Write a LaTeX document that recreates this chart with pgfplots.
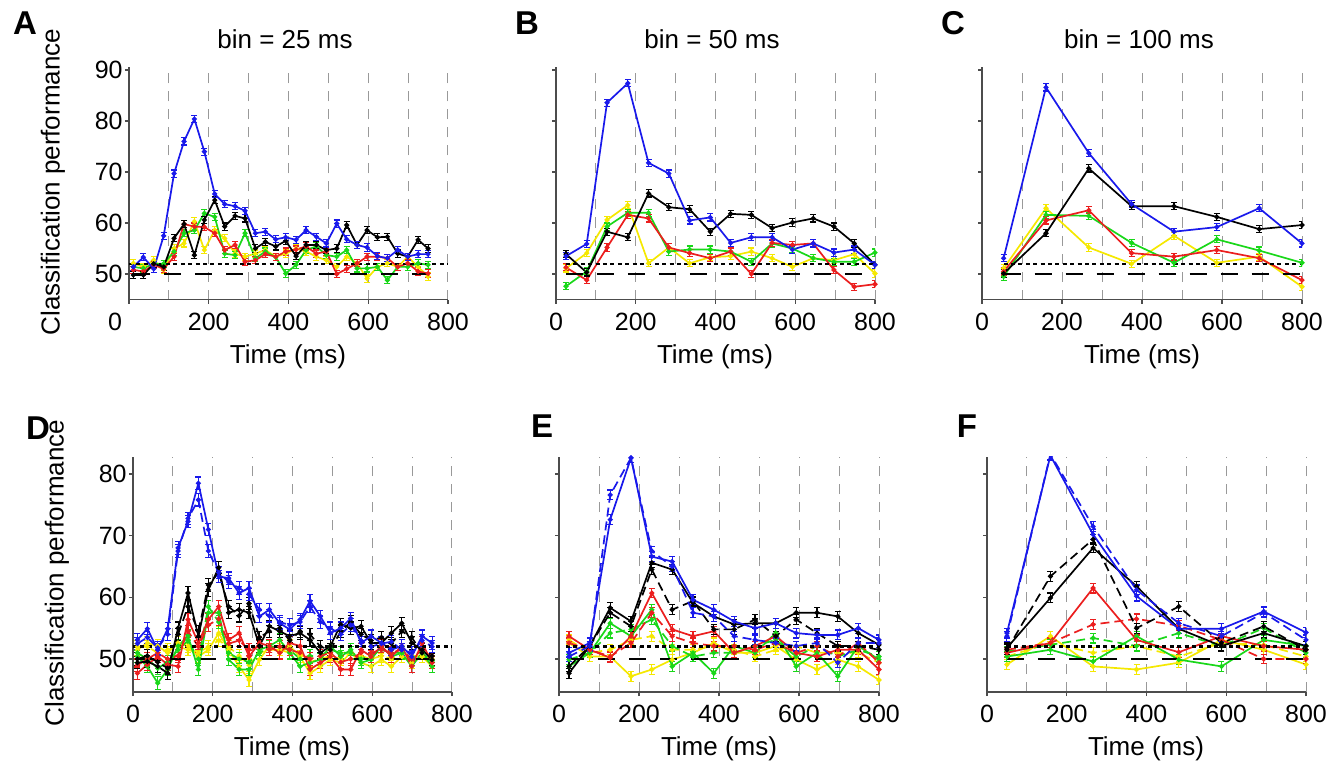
\documentclass[border=0pt]{standalone}
\usepackage{pgfplots}
\pgfplotsset{compat=1.18}
\usepackage{pgfplotstable}
\usepackage{fontspec}
\setmainfont{Liberation Sans}
\definecolor{cblue}{RGB}{25,25,235}
\definecolor{cred}{RGB}{235,30,30}
\definecolor{cgreen}{RGB}{25,215,25}
\definecolor{cyellow}{RGB}{245,232,0}

\pgfplotstableread[row sep=\\]{
x b k r g y\\
11 51.4 49.8 50.8 51.4 52.1\\
36 53.3 49.8 50.5 51.1 51.4\\
62 51.0 52.0 51.8 52.0 52.7\\
87 57.5 51.4 51.0 52.0 50.8\\
113 69.7 57.0 53.4 54.4 55.0\\
138 76.0 59.8 59.8 58.0 56.0\\
164 80.4 53.7 59.3 58.6 60.3\\
189 74.0 60.6 59.2 61.9 54.7\\
215 65.7 64.5 58.0 61.2 58.6\\
240 63.7 59.3 54.7 54.0 57.0\\
266 63.3 61.4 55.7 53.7 54.0\\
291 62.4 60.9 52.4 58.0 53.4\\
317 58.0 55.0 52.7 53.1 54.0\\
342 58.3 56.3 53.9 54.4 54.7\\
368 56.8 55.4 53.4 53.3 53.4\\
393 57.2 56.5 54.4 50.1 54.0\\
419 56.7 53.5 54.8 51.8 55.0\\
444 58.6 55.7 55.4 54.7 54.4\\
470 57.3 55.7 54.0 55.4 53.4\\
495 56.0 54.7 54.4 53.7 52.7\\
521 59.9 55.0 50.0 53.4 51.4\\
546 56.8 59.6 51.0 54.7 53.4\\
572 55.7 55.7 52.1 51.1 52.1\\
597 55.2 58.6 53.4 51.1 49.1\\
623 53.5 57.2 53.4 51.4 51.4\\
648 53.1 57.3 53.1 48.8 52.1\\
674 54.7 54.0 51.4 51.4 51.4\\
699 53.4 53.4 52.1 51.4 53.4\\
725 53.9 56.7 50.5 52.1 51.4\\
750 53.9 55.0 50.1 51.8 49.5\\
}\tA

\pgfplotstableread[row sep=\\]{
x b k r g y\\
25 53.5 53.9 51.3 47.6 51.1\\
77 55.9 50.3 48.8 50.5 54.1\\
128 83.6 58.3 55.2 59.3 60.6\\
180 87.4 57.2 61.6 62.0 63.5\\
232 71.8 65.8 60.9 62.0 52.1\\
283 69.7 63.1 55.2 54.4 55.2\\
335 60.5 62.7 54.1 54.8 52.1\\
387 61.1 58.3 53.1 54.8 53.3\\
438 56.1 61.8 54.4 54.4 53.5\\
490 57.2 61.6 50.0 52.4 54.4\\
542 57.2 59.0 56.1 56.0 53.1\\
593 54.8 60.1 55.7 55.0 51.4\\
645 56.0 60.9 56.0 53.1 53.1\\
697 54.2 59.3 50.8 52.4 52.7\\
748 54.8 56.0 47.5 52.4 53.9\\
800 51.8 51.8 48.0 54.2 50.1\\
}\tB

\pgfplotstableread[row sep=\\]{
x b k r g y\\
54 53.1 50.1 50.5 49.5 51.1\\
160 86.6 58.0 60.5 61.6 62.9\\
267 73.7 70.7 62.5 61.4 55.2\\
374 63.7 63.3 54.1 56.1 52.0\\
480 58.3 63.3 53.4 52.2 57.5\\
587 59.2 61.2 54.7 56.8 52.2\\
693 62.9 58.8 53.1 54.6 53.4\\
800 56.0 59.6 48.8 52.2 47.5\\
}\tC

\pgfplotstableread[row sep=\\]{
x b bd k kd r rd g gd y yd\\
11 53.1 52.5 49.4 50.0 47.7 49.0 50.4 51.0 51.5 52.0\\
36 54.9 53.5 49.6 50.5 49.1 50.0 48.8 50.0 52.6 52.0\\
62 51.5 51.8 48.8 49.5 50.4 51.0 46.1 48.5 52.1 51.0\\
87 54.9 54.0 47.7 48.5 49.1 50.0 48.3 49.5 51.0 51.5\\
113 68.0 67.5 55.0 54.0 48.8 50.5 52.1 51.5 52.6 52.0\\
138 72.3 72.8 60.7 58.5 56.4 54.5 53.7 53.0 52.1 51.5\\
164 78.5 75.8 53.7 54.5 52.6 52.0 48.3 50.0 50.4 51.0\\
189 71.0 67.5 61.2 62.0 56.4 55.5 57.5 58.5 51.5 52.0\\
215 63.4 64.0 64.8 64.0 58.5 56.5 57.5 56.0 54.2 53.0\\
240 63.1 62.5 57.5 58.5 53.1 52.5 49.9 51.0 51.5 52.0\\
266 60.7 61.5 58.0 57.0 54.2 53.0 48.3 50.0 48.8 50.5\\
291 61.5 60.5 57.5 59.0 50.4 51.5 48.3 49.5 46.6 49.0\\
317 56.9 58.0 52.1 53.5 52.6 52.0 51.5 51.0 49.9 51.0\\
342 58.0 57.0 55.3 54.5 52.1 51.5 52.1 52.0 52.1 51.5\\
368 55.8 56.0 54.5 55.0 51.0 52.0 53.1 52.0 51.0 51.5\\
393 54.8 55.5 53.7 53.0 52.6 51.5 51.0 51.5 52.1 51.0\\
419 56.4 56.0 54.2 54.5 52.1 51.0 48.8 50.0 50.4 51.0\\
444 59.4 58.5 53.1 54.0 48.3 50.0 49.4 50.5 47.7 49.5\\
470 56.9 56.0 51.0 52.0 49.4 50.5 49.9 50.5 48.8 50.0\\
495 54.2 55.0 52.1 51.5 50.4 51.0 52.1 51.5 49.9 50.5\\
521 55.0 54.0 55.6 54.5 48.3 49.5 50.4 51.0 49.4 50.0\\
546 56.6 55.5 55.0 56.0 48.3 50.0 51.5 51.0 51.0 51.0\\
572 52.6 53.0 55.3 54.0 51.5 51.0 49.4 50.0 49.4 50.5\\
597 53.7 52.0 52.6 53.0 50.4 51.0 49.9 50.5 48.8 50.0\\
623 52.6 52.5 52.6 53.5 52.1 51.5 52.1 51.5 49.9 50.5\\
648 51.5 52.8 54.2 52.5 50.4 51.0 50.4 51.0 48.8 50.0\\
674 52.1 51.5 55.8 54.5 52.1 51.5 51.0 51.0 50.4 51.0\\
699 50.4 51.0 52.6 53.5 48.8 50.0 48.8 50.0 49.4 50.5\\
725 53.7 53.0 51.5 51.0 52.6 51.5 51.0 51.0 50.4 50.5\\
750 52.6 52.0 49.9 50.5 49.4 50.5 48.8 49.5 48.8 50.0\\
}\tD

\pgfplotstableread[row sep=\\]{
x b bd k kd r rd g gd y yd\\
25 51.0 50.4 47.7 48.8 53.7 52.6 48.8 49.9 52.6 53.1\\
77 52.6 52.1 52.1 52.1 51.5 51.5 51.0 51.0 50.4 51.0\\
128 72.6 76.6 58.3 57.5 50.2 50.4 55.8 54.2 50.4 51.5\\
180 82.6 82.6 56.1 55.3 53.7 52.6 53.7 54.8 47.2 53.1\\
232 66.6 67.5 65.6 64.5 60.7 57.5 58.0 56.4 48.3 53.7\\
283 65.8 65.0 64.5 58.0 54.8 53.7 48.8 52.1 49.9 51.5\\
335 59.6 57.5 59.1 59.4 53.7 52.6 51.0 50.4 51.0 51.5\\
387 58.0 56.9 56.9 54.8 54.5 52.1 47.7 51.0 52.6 52.1\\
438 56.1 53.7 55.6 54.8 51.0 52.1 52.1 51.0 51.0 51.5\\
490 55.0 53.1 55.8 56.4 52.1 51.5 51.0 52.1 51.0 50.4\\
542 55.8 52.6 55.8 53.7 53.7 52.6 54.2 53.1 52.1 51.5\\
593 54.2 52.1 57.5 56.4 51.0 51.0 48.8 50.4 49.9 52.1\\
645 53.9 52.6 57.5 54.2 50.4 52.1 51.0 52.1 48.3 51.0\\
697 53.9 49.4 56.9 52.1 51.5 50.4 47.2 50.4 49.9 51.0\\
748 55.0 52.6 54.2 52.1 51.5 52.6 52.1 51.5 48.8 51.0\\
800 53.1 52.6 52.3 51.5 48.3 49.4 49.9 50.4 46.6 49.4\\
}\tE

\pgfplotstableread[row sep=\\]{
x b bd k kd r rd g gd y yd\\
50 54.2 53.7 51.8 51.5 51.0 51.5 50.4 51.2 49.1 50.4\\
159 83.0 83.2 59.9 63.4 52.6 52.6 51.5 52.3 53.7 52.6\\
266 70.2 71.5 68.0 69.4 61.5 55.6 49.6 53.4 48.8 51.0\\
375 60.2 61.2 61.8 55.0 53.1 56.5 53.7 52.1 48.3 52.1\\
481 54.9 55.8 54.9 58.5 51.1 55.4 49.9 54.2 49.4 50.4\\
588 54.9 53.7 52.1 52.6 53.7 53.1 48.8 52.1 53.1 52.6\\
694 57.7 57.5 54.2 55.3 52.1 50.0 53.1 55.0 51.5 52.3\\
800 54.3 53.1 52.1 51.5 51.5 50.0 52.1 51.0 49.1 50.4\\
}\tF

\pgfplotsset{
 panel/.style={scale only axis, anchor=south west, xmin=0, xmax=800,
  axis x line*=bottom, axis y line*=left,
  axis line style={black!70, line width=0.7pt, -},
  xtick={0,200,400,600,800}, minor xtick={100,300,500,700},
  xmajorgrids=true, xminorgrids=true,
  major grid style={black!40, line width=0.5pt, dash pattern=on 5pt off 4pt},
  minor grid style={black!40, line width=0.5pt, dash pattern=on 5pt off 4pt},
  tick align=outside, major tick length=2pt, minor tick length=0pt,
  major tick style={black!70, line width=0.6pt},
  tick label style={font=\fontsize{12.5}{14}\selectfont},
  /pgf/number format/assume math mode=true,
  yticklabel style={inner sep=1pt},
  xticklabel style={yshift=-1pt},
 },
 s/.style={#1, line width=0.85pt, mark=*, mark size=0.8pt, mark options={solid},
  error bars/y dir=both,
  error bars/error bar style={line width=0.55pt, solid},
  error bars/error mark options={rotate=90, line width=0.55pt, mark size=1.5pt, solid}},
 dsh/.style={dash pattern=on 4.5pt off 2.5pt},
 dotl/.style={black, line width=1.25pt, dash pattern=on 2pt off 1.7pt},
 dashl/.style={black, line width=1.35pt, dash pattern=on 8.5pt off 7pt},
}

\newcommand\fivep[2]{%
 \addplot[s=cyellow, error bars/y fixed=#2] table[x=x,y=y]{#1};
 \addplot[s=cgreen, error bars/y fixed=#2] table[x=x,y=g]{#1};
 \addplot[s=cred, error bars/y fixed=#2] table[x=x,y=r]{#1};
 \addplot[s=black, error bars/y fixed=#2] table[x=x,y=k]{#1};
 \addplot[s=cblue, error bars/y fixed=#2] table[x=x,y=b]{#1};
}
\newcommand\tenp[2]{%
 \addplot[dsh, s=cyellow, error bars/y fixed=#2] table[x=x,y=yd]{#1};
 \addplot[s=cyellow, error bars/y fixed=#2] table[x=x,y=y]{#1};
 \addplot[dsh, s=cgreen, error bars/y fixed=#2] table[x=x,y=gd]{#1};
 \addplot[s=cgreen, error bars/y fixed=#2] table[x=x,y=g]{#1};
 \addplot[dsh, s=cred, error bars/y fixed=#2] table[x=x,y=rd]{#1};
 \addplot[s=cred, error bars/y fixed=#2] table[x=x,y=r]{#1};
 \addplot[dsh, s=black, error bars/y fixed=#2] table[x=x,y=kd]{#1};
 \addplot[s=black, error bars/y fixed=#2] table[x=x,y=k]{#1};
 \addplot[dsh, s=cblue, error bars/y fixed=#2] table[x=x,y=bd]{#1};
 \addplot[s=cblue, error bars/y fixed=#2] table[x=x,y=b]{#1};
}

\begin{document}
\begin{tikzpicture}
\useasboundingbox (0,0) rectangle (666.5pt,383.5pt);
% ---------- top row
\begin{axis}[panel, at={(64.5pt,233.75pt)}, width=159.5pt, height=116pt,
  ymin=45, ymax=90.5, ytick={50,60,70,80,90},
  xticklabels={\makebox[0pt][r]{0\hspace{3.5pt}},200,400,600,800}]
 \fivep{\tA}{0.7}
 \addplot[dashl] coordinates {(10,50) (760,50)};
 \addplot[dotl] coordinates {(0,52) (800,52)};
\end{axis}
\begin{axis}[panel, at={(278pt,233.75pt)}, width=159.5pt, height=116pt,
  ymin=45, ymax=90.5, ytick={50,60,70,80,90}, yticklabels={}]
 \fivep{\tB}{0.7}
 \addplot[dashl] coordinates {(25,50) (800,50)};
 \addplot[dotl] coordinates {(25,52) (800,52)};
\end{axis}
\begin{axis}[panel, at={(491pt,233.75pt)}, width=160pt, height=116pt,
  ymin=45, ymax=90.5, ytick={50,60,70,80,90}, yticklabels={}]
 \fivep{\tC}{0.7}
 \addplot[dashl] coordinates {(54,50) (800,50)};
 \addplot[dotl] coordinates {(54,52) (800,52)};
\end{axis}
% ---------- bottom row
\begin{axis}[panel, at={(66.5pt,37.5pt)}, width=159.5pt, height=117.5pt,
  ymin=44.65, ymax=82.75, ytick={50,60,70,80}]
 \tenp{\tD}{1.0}
 \addplot[dashl] coordinates {(10,50) (765,50)};
 \addplot[dotl] coordinates {(0,52) (800,52)};
\end{axis}
\begin{axis}[panel, at={(279.5pt,37.5pt)}, width=160pt, height=117.5pt,
  ymin=44.65, ymax=82.75, ytick={50,60,70,80}, yticklabels={}]
 \tenp{\tE}{0.8}
 \addplot[dashl] coordinates {(20,50) (800,50)};
 \addplot[dotl] coordinates {(17,52) (800,52)};
\end{axis}
\begin{axis}[panel, at={(493.5pt,37.5pt)}, width=159.5pt, height=117.5pt,
  ymin=44.65, ymax=82.75, ytick={50,60,70,80}, yticklabels={}]
 \tenp{\tF}{0.8}
 \addplot[dashl] coordinates {(50,50) (800,50)};
 \addplot[dotl] coordinates {(50,52) (800,52)};
\end{axis}
% ---------- texts
\begin{scope}[every node/.style={font=\fontsize{16.5}{18}\selectfont\bfseries}]
 \node at (12.5pt,372pt) {A};
 \node at (263.5pt,372pt) {B};
 \node at (476.5pt,372pt) {C};
 \node at (19pt,169.5pt) {D};
 \node at (271pt,170.5pt) {E};
 \node at (483.5pt,170.5pt) {F};
\end{scope}
\begin{scope}[every node/.style={font=\fontsize{13}{15}\selectfont}]
 \node[anchor=base] at (142.5pt,359pt) {bin = 25 ms};
 \node[anchor=base] at (356pt,359pt) {bin = 50 ms};
 \node[anchor=base] at (569.5pt,359pt) {bin = 100 ms};
 \node[rotate=90] at (26.5pt,292.5pt) {Classification performance};
 \node[rotate=90] at (28.5pt,97pt) {Classification performance};
 \node[anchor=base] at (144pt,202pt) {Time (ms)};
 \node[anchor=base] at (357.5pt,202pt) {Time (ms)};
 \node[anchor=base] at (571pt,202pt) {Time (ms)};
 \node[anchor=base] at (146pt,6pt) {Time (ms)};
 \node[anchor=base] at (359.5pt,6pt) {Time (ms)};
 \node[anchor=base] at (573pt,6pt) {Time (ms)};
\end{scope}
\end{tikzpicture}
\end{document}
